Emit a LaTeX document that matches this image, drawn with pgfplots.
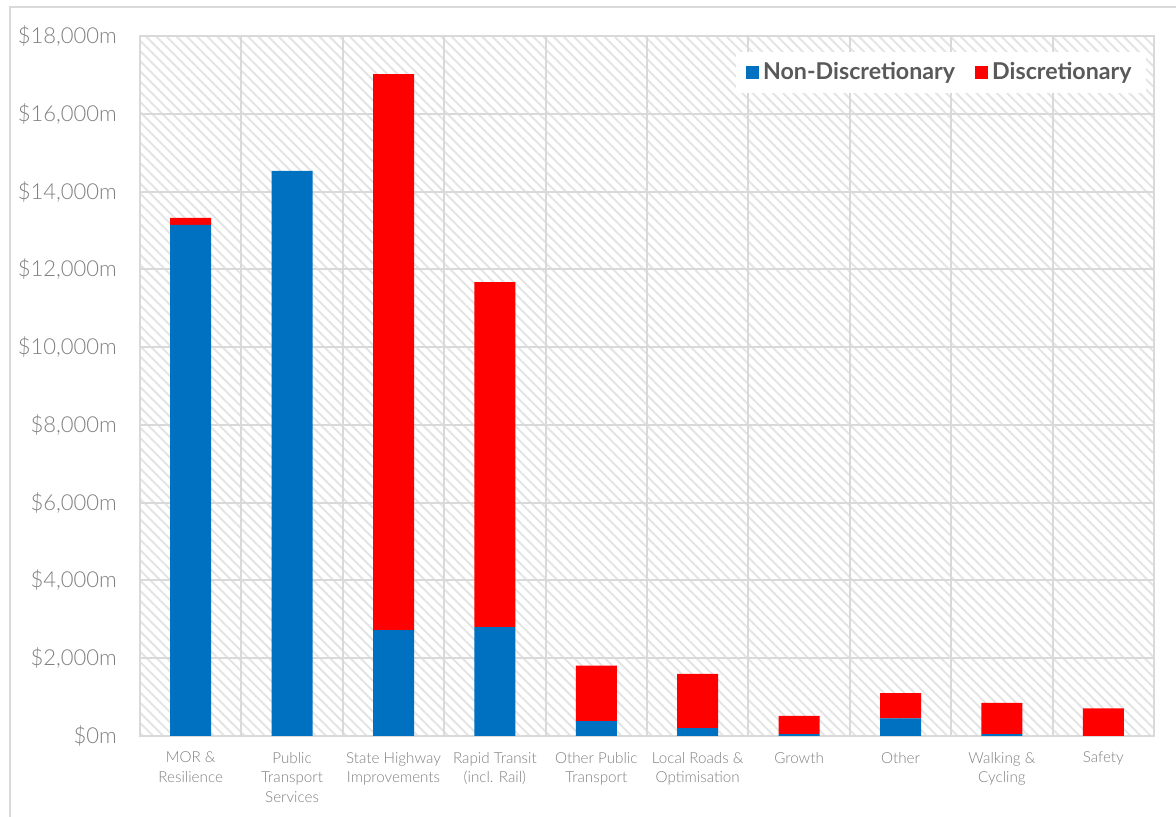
\documentclass[border=0pt]{standalone}
\usepackage{pgfplots}
\pgfplotsset{compat=1.18}
\usepackage{fontspec}
\setmainfont{Lato}
\IfFontExistsTF{Lato Light}{\newfontfamily\lightfont{Lato Light}}{\newfontfamily\lightfont{Lato}}
\usetikzlibrary{patterns.meta}
\definecolor{ndblue}{HTML}{0070C0}
\definecolor{dred}{HTML}{FF0000}
\definecolor{gridgray}{HTML}{D9D9D9}
\definecolor{hatchgray}{HTML}{E4E4E4}
\definecolor{ticktext}{HTML}{7F7F7F}
\definecolor{legtext}{HTML}{595959}
\begin{document}
\begin{tikzpicture}
\useasboundingbox (-70pt,-40.5pt) rectangle (518pt,368pt);
\draw[gridgray, line width=1pt] (-65pt,-45pt) -- (-65pt,364.5pt) -- (525pt,364.5pt);
\begin{axis}[
  at={(0,0)}, anchor=south west,
  scale only axis,
  width=507pt, height=350pt,
  ybar stacked,
  bar width=20.5pt,
  xmin=-0.5, xmax=9.5,
  ymin=0, ymax=18000,
  scaled y ticks=false,
  xtick={0,...,9},
  xticklabels={{MOR \&\\Resilience},{Public\\Transport\\Services},{State Highway\\Improvements},{Rapid Transit\\(incl. Rail)},{Other Public\\Transport},{Local Roads \&\\Optimisation},{Growth},{Other},{Walking \&\\Cycling},{Safety}},
  minor xtick={-0.5,0.5,...,9.5},
  xminorgrids=true,
  ytick={0,2000,...,18000},
  yticklabels={{\$0m},{\$2,000m},{\$4,000m},{\$6,000m},{\$8,000m},{\$10,000m},{\$12,000m},{\$14,000m},{\$16,000m},{\$18,000m}},
  ymajorgrids=true,
  major tick length=0pt, minor tick length=0pt,
  grid style={gridgray, line width=1pt},
  minor grid style={gridgray, line width=1pt},
  axis line style={gridgray, line width=1pt},
  axis background/.style={pattern={Lines[angle=-45,distance=3.6pt,line width=1pt]}, pattern color=hatchgray},
  xticklabel style={font=\lightfont\fontsize{7.6}{9.8}\selectfont, text=ticktext, align=center, anchor=north, yshift=-4.5pt},
  yticklabel style={font=\lightfont\fontsize{11}{13}\selectfont, text=ticktext, anchor=east, xshift=-8pt},
  legend style={at={(rel axis cs:0.992,0.978)}, anchor=north east, draw=none, fill=white,
    font=\bfseries\fontsize{11.6}{13}\selectfont, text=legtext, legend columns=2,
    /tikz/every even column/.append style={column sep=8pt}, inner xsep=5pt, inner ysep=3.2pt},
  legend cell align=left,
]
\addplot[fill=ndblue, draw=none, legend image code/.code={\fill[ndblue] (0pt,-3.3pt) rectangle (6.6pt,3.3pt);}] coordinates {
(0,13140) (1,14530) (2,2720) (3,2800) (4,380) (5,200) (6,50) (7,450) (8,50) (9,0)};
\addplot[fill=dred, draw=none, legend image code/.code={\fill[dred] (0pt,-3.3pt) rectangle (6.6pt,3.3pt);}] coordinates {
(0,180) (1,0) (2,14300) (3,8870) (4,1430) (5,1395) (6,465) (7,655) (8,800) (9,712)};
\legend{Non-Discretionary, Discretionary}
\end{axis}
\end{tikzpicture}
\end{document}
